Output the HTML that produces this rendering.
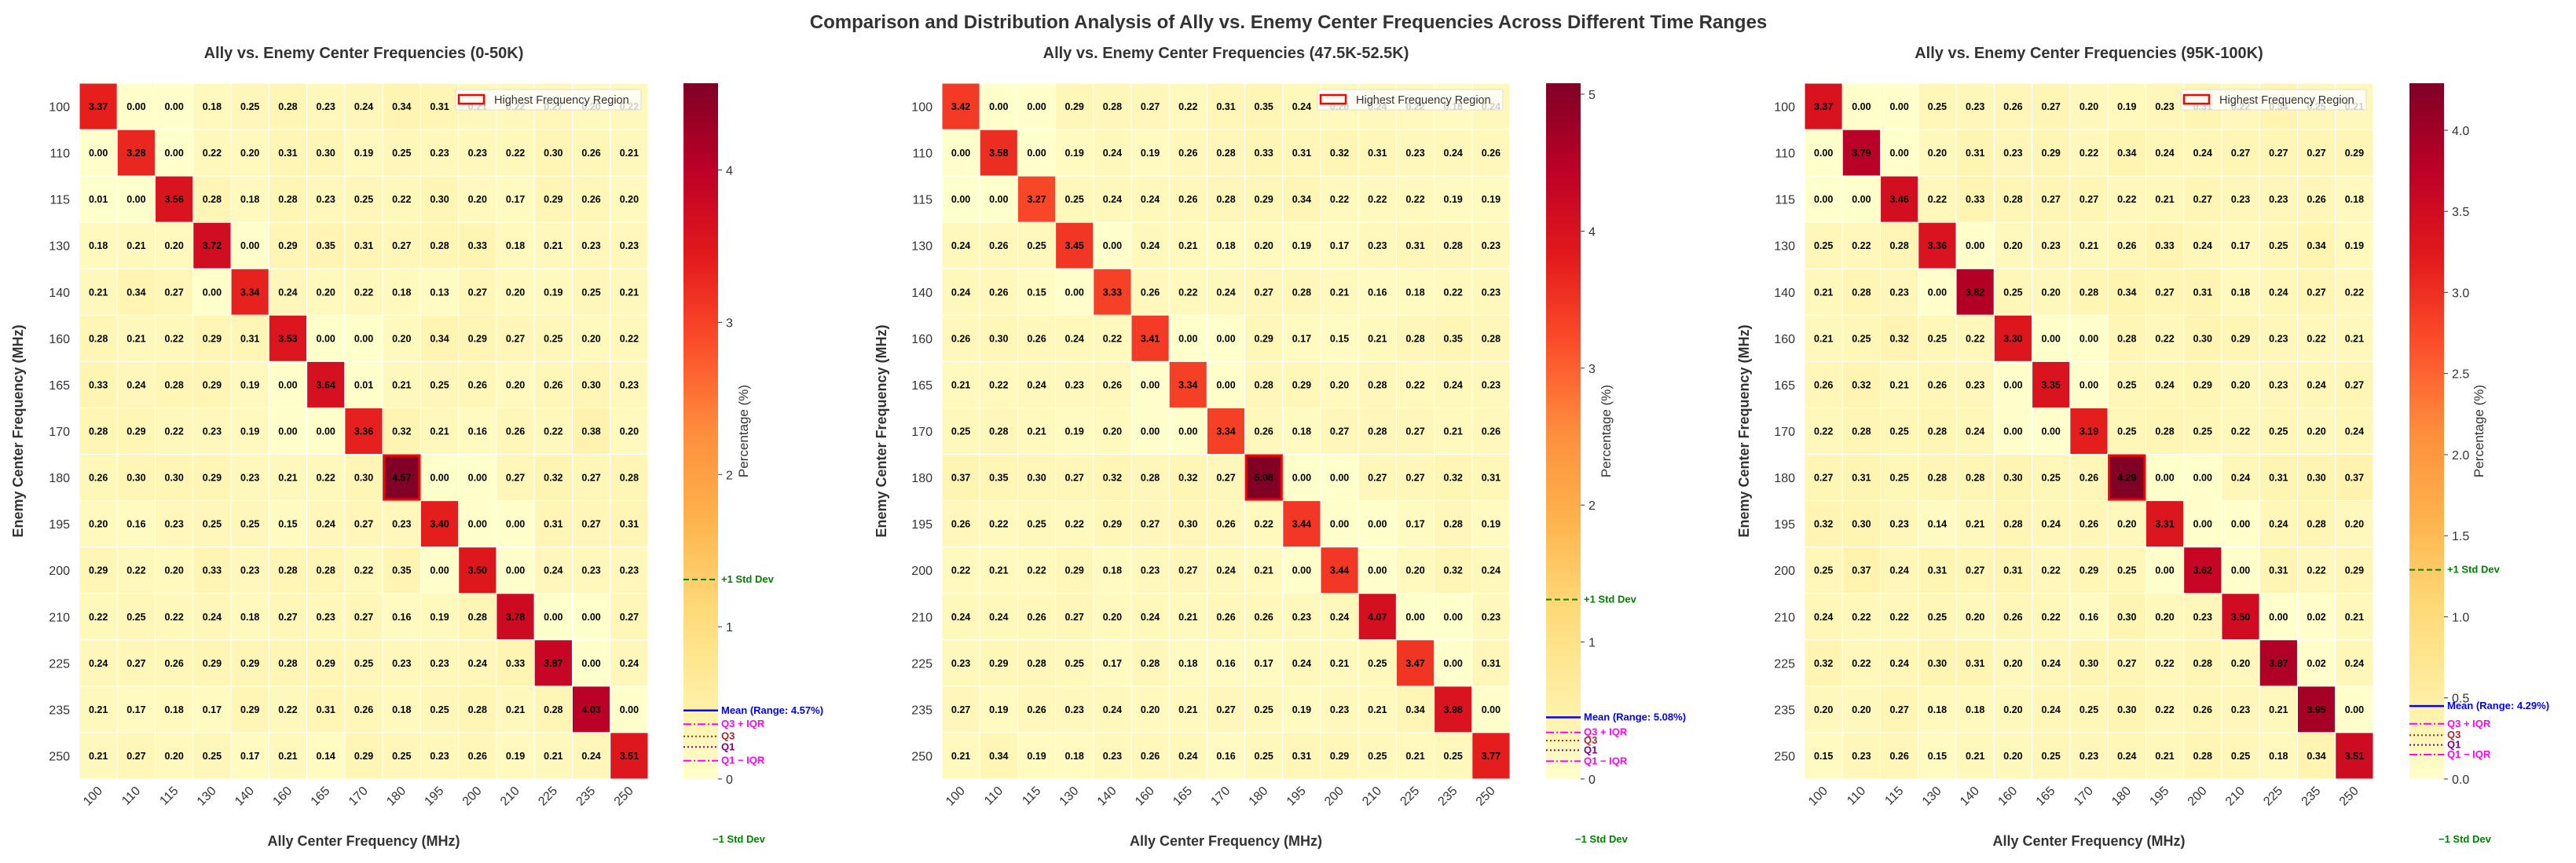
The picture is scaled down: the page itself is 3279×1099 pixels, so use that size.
<!DOCTYPE html>
<html><head><meta charset="utf-8">
<style>
html,body{margin:0;padding:0;background:#fff;}
svg{display:block;font-family:"Liberation Sans",Arial,sans-serif;}
</style></head>
<body>
<svg id="chart" width="3279" height="1099" viewBox="0 0 3279 1099" xmlns="http://www.w3.org/2000/svg">
<text x="1640" y="36" text-anchor="middle" font-size="24" font-weight="bold" fill="#333">Comparison and Distribution Analysis of Ally vs. Enemy Center Frequencies Across Different Time Ranges</text>
</svg>
<script>
const categories = ["100","110","115","130","140","160","165","170","180","195","200","210","225","235","250"];
const titles = ["Ally vs. Enemy Center Frequencies (0-50K)","Ally vs. Enemy Center Frequencies (47.5K-52.5K)","Ally vs. Enemy Center Frequencies (95K-100K)"];
const values1 = [
[3.37,0.00,0.00,0.18,0.25,0.28,0.23,0.24,0.34,0.31,0.21,0.22,0.27,0.20,0.22],
[0.00,3.28,0.00,0.22,0.20,0.31,0.30,0.19,0.25,0.23,0.23,0.22,0.30,0.26,0.21],
[0.01,0.00,3.56,0.28,0.18,0.28,0.23,0.25,0.22,0.30,0.20,0.17,0.29,0.26,0.20],
[0.18,0.21,0.20,3.72,0.00,0.29,0.35,0.31,0.27,0.28,0.33,0.18,0.21,0.23,0.23],
[0.21,0.34,0.27,0.00,3.34,0.24,0.20,0.22,0.18,0.13,0.27,0.20,0.19,0.25,0.21],
[0.28,0.21,0.22,0.29,0.31,3.53,0.00,0.00,0.20,0.34,0.29,0.27,0.25,0.20,0.22],
[0.33,0.24,0.28,0.29,0.19,0.00,3.64,0.01,0.21,0.25,0.26,0.20,0.26,0.30,0.23],
[0.28,0.29,0.22,0.23,0.19,0.00,0.00,3.36,0.32,0.21,0.16,0.26,0.22,0.38,0.20],
[0.26,0.30,0.30,0.29,0.23,0.21,0.22,0.30,4.57,0.00,0.00,0.27,0.32,0.27,0.28],
[0.20,0.16,0.23,0.25,0.25,0.15,0.24,0.27,0.23,3.40,0.00,0.00,0.31,0.27,0.31],
[0.29,0.22,0.20,0.33,0.23,0.28,0.28,0.22,0.35,0.00,3.50,0.00,0.24,0.23,0.23],
[0.22,0.25,0.22,0.24,0.18,0.27,0.23,0.27,0.16,0.19,0.28,3.78,0.00,0.00,0.27],
[0.24,0.27,0.26,0.29,0.29,0.28,0.29,0.25,0.23,0.23,0.24,0.33,3.87,0.00,0.24],
[0.21,0.17,0.18,0.17,0.29,0.22,0.31,0.26,0.18,0.25,0.28,0.21,0.28,4.03,0.00],
[0.21,0.27,0.20,0.25,0.17,0.21,0.14,0.29,0.25,0.23,0.26,0.19,0.21,0.24,3.51]];
const values2 = [
[3.42,0.00,0.00,0.29,0.28,0.27,0.22,0.31,0.35,0.24,0.20,0.24,0.22,0.18,0.24],
[0.00,3.58,0.00,0.19,0.24,0.19,0.26,0.28,0.33,0.31,0.32,0.31,0.23,0.24,0.26],
[0.00,0.00,3.27,0.25,0.24,0.24,0.26,0.28,0.29,0.34,0.22,0.22,0.22,0.19,0.19],
[0.24,0.26,0.25,3.45,0.00,0.24,0.21,0.18,0.20,0.19,0.17,0.23,0.31,0.28,0.23],
[0.24,0.26,0.15,0.00,3.33,0.26,0.22,0.24,0.27,0.28,0.21,0.16,0.18,0.22,0.23],
[0.26,0.30,0.26,0.24,0.22,3.41,0.00,0.00,0.29,0.17,0.15,0.21,0.28,0.35,0.28],
[0.21,0.22,0.24,0.23,0.26,0.00,3.34,0.00,0.28,0.29,0.20,0.28,0.22,0.24,0.23],
[0.25,0.28,0.21,0.19,0.20,0.00,0.00,3.34,0.26,0.18,0.27,0.28,0.27,0.21,0.26],
[0.37,0.35,0.30,0.27,0.32,0.28,0.32,0.27,5.08,0.00,0.00,0.27,0.27,0.32,0.31],
[0.26,0.22,0.25,0.22,0.29,0.27,0.30,0.26,0.22,3.44,0.00,0.00,0.17,0.28,0.19],
[0.22,0.21,0.22,0.29,0.18,0.23,0.27,0.24,0.21,0.00,3.44,0.00,0.20,0.32,0.24],
[0.24,0.24,0.26,0.27,0.20,0.24,0.21,0.26,0.26,0.23,0.24,4.07,0.00,0.00,0.23],
[0.23,0.29,0.28,0.25,0.17,0.28,0.18,0.16,0.17,0.24,0.21,0.25,3.47,0.00,0.31],
[0.27,0.19,0.26,0.23,0.24,0.20,0.21,0.27,0.25,0.19,0.23,0.21,0.34,3.98,0.00],
[0.21,0.34,0.19,0.18,0.23,0.26,0.24,0.16,0.25,0.31,0.29,0.25,0.21,0.25,3.77]];
const values3 = [
[3.37,0.00,0.00,0.25,0.23,0.26,0.27,0.20,0.19,0.23,0.31,0.22,0.34,0.25,0.21],
[0.00,3.79,0.00,0.20,0.31,0.23,0.29,0.22,0.34,0.24,0.24,0.27,0.27,0.27,0.29],
[0.00,0.00,3.46,0.22,0.33,0.28,0.27,0.27,0.22,0.21,0.27,0.23,0.23,0.26,0.18],
[0.25,0.22,0.28,3.36,0.00,0.20,0.23,0.21,0.26,0.33,0.24,0.17,0.25,0.34,0.19],
[0.21,0.28,0.23,0.00,3.82,0.25,0.20,0.28,0.34,0.27,0.31,0.18,0.24,0.27,0.22],
[0.21,0.25,0.32,0.25,0.22,3.30,0.00,0.00,0.28,0.22,0.30,0.29,0.23,0.22,0.21],
[0.26,0.32,0.21,0.26,0.23,0.00,3.35,0.00,0.25,0.24,0.29,0.20,0.23,0.24,0.27],
[0.22,0.28,0.25,0.28,0.24,0.00,0.00,3.19,0.25,0.28,0.25,0.22,0.25,0.20,0.24],
[0.27,0.31,0.25,0.28,0.28,0.30,0.25,0.26,4.29,0.00,0.00,0.24,0.31,0.30,0.37],
[0.32,0.30,0.23,0.14,0.21,0.28,0.24,0.26,0.20,3.31,0.00,0.00,0.24,0.28,0.20],
[0.25,0.37,0.24,0.31,0.27,0.31,0.22,0.29,0.25,0.00,3.62,0.00,0.31,0.22,0.29],
[0.24,0.22,0.22,0.25,0.20,0.26,0.22,0.16,0.30,0.20,0.23,3.50,0.00,0.02,0.21],
[0.32,0.22,0.24,0.30,0.31,0.20,0.24,0.30,0.27,0.22,0.28,0.20,3.87,0.02,0.24],
[0.20,0.20,0.27,0.18,0.18,0.20,0.24,0.25,0.30,0.22,0.26,0.23,0.21,3.95,0.00],
[0.15,0.23,0.26,0.15,0.21,0.20,0.25,0.23,0.24,0.21,0.28,0.25,0.18,0.34,3.51]];
// colorbar stats: [+1 std, mean, Q3+IQR, Q3, Q1, Q1-IQR]
const stats1 = [1.31,0.45,0.36,0.28,0.21,0.12];
const stats2 = [1.31,0.45,0.34,0.28,0.21,0.13];
const stats3 = [1.29,0.45,0.34,0.27,0.21,0.15];
const cbTicks1 = ["0","1","2","3","4"];
const cbTicks2 = ["0","1","2","3","4","5"];
const cbTicks3 = ["0.0","0.5","1.0","1.5","2.0","2.5","3.0","3.5","4.0"];

const NS="http://www.w3.org/2000/svg";
const svg=document.getElementById('chart');
function mk(tag,attrs,parent,text){const e=document.createElementNS(NS,tag);for(const k in attrs)e.setAttribute(k,attrs[k]);if(text!==undefined)e.textContent=text;(parent||svg).appendChild(e);return e;}
const stops=[[255,255,204],[255,237,160],[254,217,118],[254,178,76],[253,141,60],[252,78,42],[227,26,28],[189,0,38],[128,0,38]];
function cmap(t){t=Math.max(0,Math.min(1,t));const p=t*8;const i=Math.min(7,Math.floor(p));const f=p-i;const a=stops[i],b=stops[i+1];return `rgb(${Math.round(a[0]+(b[0]-a[0])*f)},${Math.round(a[1]+(b[1]-a[1])*f)},${Math.round(a[2]+(b[2]-a[2])*f)})`;}

const panels=[
 {vals:values1,stats:stats1,ticks:cbTicks1,left:101,right:825,cbL:870,cbR:914,ylabX:23,cbLabOff:38},
 {vals:values2,stats:stats2,ticks:cbTicks2,left:1199,right:1922,cbL:1968,cbR:2012,ylabX:1122,cbLabOff:38},
 {vals:values3,stats:stats3,ticks:cbTicks3,left:2297,right:3021,cbL:3067,cbR:3111,ylabX:2220,cbLabOff:50}];
const topY=106,bottomY=992;
const statNames=["+1 Std Dev",null,"Q3 + IQR","Q3","Q1","Q1 − IQR"];
const statColors=["#008000","#0000ff","#ff00ff","#a52a2a","#800080","#ff00ff"];
const statDash=["7,4","","10,3,2,3","2,3","2,3","10,3,2,3"];

panels.forEach((p,pi)=>{
  const g=mk('g',{});
  
  
  const vals=p.vals;
  let vmax=0,mr=0,mc=0;
  vals.forEach((r,i)=>r.forEach((v,j)=>{if(v>vmax){vmax=v;mr=i;mc=j;}}));
  const n=categories.length;
  const cw=(p.right-p.left)/n, ch=(bottomY-topY)/n;
  const xS=j=>p.left+j*cw, yS=i=>topY+i*ch;
  const cbY=v=>bottomY-(v/vmax)*(bottomY-topY);
  const cx=(p.left+p.right)/2;
  const t=mk('text',{x:cx,y:74,'text-anchor':'middle','font-size':20,'font-weight':'bold',fill:'#333'},g,titles[pi]);
  
  
  vals.forEach((r,i)=>r.forEach((v,j)=>{
    const c=mk('rect',{x:xS(j),y:yS(i),width:cw,height:ch,fill:cmap(v/vmax),stroke:'#fff','stroke-width':1},g);
    
    
    const tx=mk('text',{x:xS(j)+cw/2,y:yS(i)+ch/2+4.5,'text-anchor':'middle','font-size':12.5,'font-weight':'bold',fill:'#000'},g,v.toFixed(2));
    
    
  }));
  const hr=mk('rect',{x:xS(mc)+1.5,y:yS(mr)+1.5,width:cw-3,height:ch-3,fill:'none',stroke:'#ff0000','stroke-width':3},g);
  
  
  const lg=mk('g',{},g);
  
  
  const lx=p.right-245,ly=topY+8;
  mk('rect',{x:lx,y:ly,width:236,height:26,fill:'rgba(255,255,255,0.8)',stroke:'#ddd',rx:2},lg);
  mk('rect',{x:lx+4,y:ly+7,width:32,height:11,fill:'none',stroke:'#ff0000','stroke-width':2.5},lg);
  const le=mk('text',{x:lx+49,y:ly+18,'font-size':14.5,fill:'#333'},lg,'Highest Frequency Region');
  
  
  categories.forEach((c,i)=>{
    const yl=mk('text',{x:p.left-12,y:yS(i)+ch/2+6,'text-anchor':'end','font-size':16,fill:'#333'},g,c);
    
    
    const xx=xS(i)+cw/2+6, yy=bottomY+16;
    const xl=mk('text',{x:xx,y:yy,'text-anchor':'end','font-size':16,fill:'#333',transform:`rotate(-45 ${xx} ${yy})`},g,c);
    
    
  });
  const xt=mk('text',{x:cx,y:1077,'text-anchor':'middle','font-size':18,'font-weight':'bold',fill:'#333'},g,'Ally Center Frequency (MHz)');
  
  
  const ym=(topY+bottomY)/2;
  const yt=mk('text',{x:p.ylabX+6,y:ym,'text-anchor':'middle','font-size':18,'font-weight':'bold',fill:'#333',transform:`rotate(-90 ${p.ylabX+6} ${ym})`},g,'Enemy Center Frequency (MHz)');
  
  
  const cb=mk('g',{},g);
  
  
  const gid='grad'+pi;
  const defs=mk('defs',{},cb);
  const lgd=mk('linearGradient',{id:gid,x1:0,y1:1,x2:0,y2:0},defs);
  for(let k=0;k<=16;k++){mk('stop',{offset:k/16,'stop-color':cmap(k/16)},lgd);}
  mk('rect',{x:p.cbL,y:cbY(vmax),width:p.cbR-p.cbL,height:bottomY-cbY(vmax),fill:`url(#${gid})`},cb);
  p.ticks.forEach(tk=>{
    const v=parseFloat(tk), y=cbY(v);
    mk('line',{x1:p.cbR,x2:p.cbR+5,y1:y,y2:y,stroke:'#333','stroke-width':1},cb);
    const tl=mk('text',{x:p.cbR+10,y:y+6,'font-size':16,fill:'#333'},cb,tk);
    
    
  });
  const lx2=p.cbR+p.cbLabOff;
  const cl=mk('text',{x:lx2,y:ym,'text-anchor':'middle','font-size':17,fill:'#333',transform:`rotate(-90 ${lx2} ${ym})`},cb,'Percentage (%)');
  
  
  p.stats.forEach((s,k)=>{
    const y=cbY(s);
    const ln=mk('line',{x1:p.cbL,x2:p.cbR,y1:y,y2:y,stroke:statColors[k],'stroke-width':k===1?2.5:2},cb);
    if(statDash[k]) ln.setAttribute('stroke-dasharray',statDash[k]);
    
    
    const name=k===1?`Mean (Range: ${vmax.toFixed(2)}%)`:statNames[k];
    const st=mk('text',{x:p.cbR+4,y:y+4,'font-size':13,'font-weight':'bold',fill:statColors[k]},cb,name);
    
    
  });
  const sd=mk('text',{x:p.cbR-7,y:1073,'font-size':13,'font-weight':'bold',fill:'#008000'},cb,'−1 Std Dev');
  
  
});
</script>
</body></html>
